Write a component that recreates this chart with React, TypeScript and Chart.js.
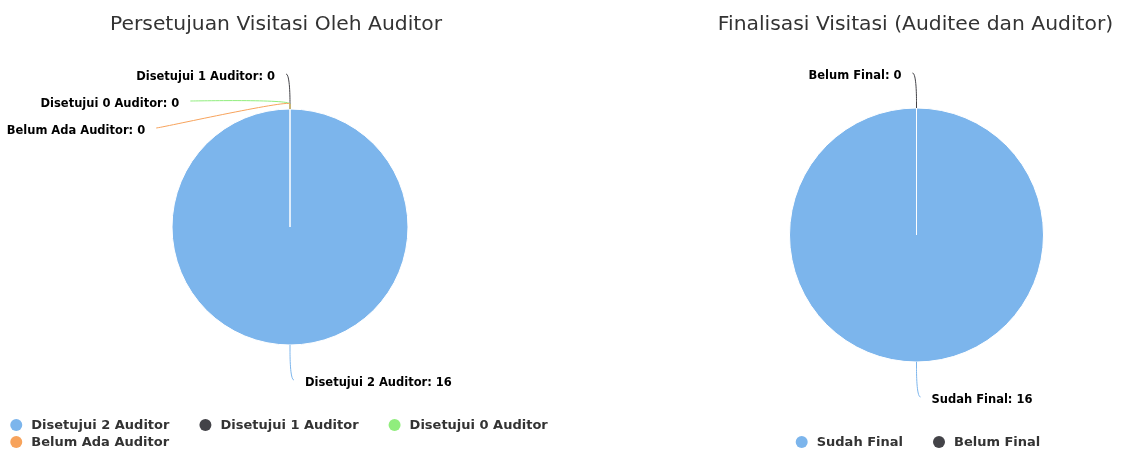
import React, { useEffect, useRef } from 'react';
import { Chart, registerables } from 'chart.js';

Chart.register(...registerables);

// ---- data ----
const approvalTitle = 'Persetujuan Visitasi Oleh Auditor';
const approvalCategories = ['Disetujui 2 Auditor', 'Disetujui 1 Auditor', 'Disetujui 0 Auditor', 'Belum Ada Auditor'];
const approvalValues = [16, 0, 0, 0];

const finalTitle = 'Finalisasi Visitasi (Auditee dan Auditor)';
const finalCategories = ['Sudah Final', 'Belum Final'];
const finalValues = [16, 0];

const palette = ['#7cb5ec', '#434348', '#90ed7d', '#f7a35c'];

const FONT = '"DejaVu Sans", Verdana, sans-serif';

type Layout = {
  left: number;
  width: number;
  height: number;
  titleX: number;
  titleY: number;
  cx: number;
  cy: number;
  r: number;
  legendX: number;
  legendY: number;
};

const leftLayout: Layout = { left: 0, width: 562, height: 450, titleX: 276, titleY: 30, cx: 290, cy: 227, r: 118, legendX: 279, legendY: 442 };
const rightLayout: Layout = { left: 561, width: 562, height: 450, titleX: 354.5, titleY: 30, cx: 355.5, cy: 235, r: 127, legendX: 357, legendY: 442 };

const LABEL_DIST = 35;
const LABEL_STEP = 27;
const CURVE_K = 30;
const BREAK = 5;

const pieDecor = {
  id: 'pieDecor',
  afterDraw(chart: any, _args: any, opts: any) {
    const ctx: CanvasRenderingContext2D = chart.ctx;
    const meta = chart.getDatasetMeta(0);
    const ds = chart.data.datasets[0];
    const labels: string[] = chart.data.labels;
    const colors: string[] = ds.backgroundColor;
    const values: number[] = ds.data;

    ctx.save();
    // title
    ctx.font = `20.3px ${FONT}`;
    ctx.fillStyle = '#333333';
    ctx.textAlign = 'center';
    ctx.textBaseline = 'alphabetic';
    ctx.fillText(opts.title, opts.titleX, opts.titleY);

    // data labels
    const EPS = 1e-9;
    const items = meta.data.map((arc: any, i: number) => {
      const p = arc.getProps(['x', 'y', 'startAngle', 'endAngle', 'outerRadius'], true);
      let a = (p.startAngle + p.endAngle) / 2;
      if (a > 1.5 * Math.PI + EPS) a -= 2 * Math.PI;
      else if (a < -Math.PI / 2 - EPS) a += 2 * Math.PI;
      const isLeft = a < -Math.PI / 2 - EPS || a > Math.PI / 2 + EPS;
      const r = p.outerRadius;
      return {
        i, a, isLeft, cx: p.x, cy: p.y, r,
        ly: p.y + (r + LABEL_DIST) * Math.sin(a),
      };
    });
    for (const half of [true, false]) {
      const group = items.filter((it: any) => it.isLeft === half).sort((u: any, v: any) => u.ly - v.ly || u.i - v.i);
      let prev = -Infinity;
      for (const it of group) {
        if (it.ly < prev + LABEL_STEP) it.ly = prev + LABEL_STEP;
        prev = it.ly;
      }
    }
    ctx.font = `bold 11.5px ${FONT}`;
    ctx.textBaseline = 'middle';
    for (const it of items) {
      const sign = it.isLeft ? -1 : 1;
      const R = it.r + LABEL_DIST + CURVE_K;
      const dy = Math.abs(it.ly - it.cy) + CURVE_K;
      const ax = it.cx + sign * Math.sqrt(Math.max(0, R * R - dy * dy));
      const ex = it.cx + it.r * Math.cos(it.a);
      const ey = it.cy + it.r * Math.sin(it.a);
      const bx = it.cx + (it.r + BREAK) * Math.cos(it.a);
      const by = it.cy + (it.r + BREAK) * Math.sin(it.a);
      ctx.strokeStyle = colors[it.i];
      ctx.lineWidth = 1;
      ctx.beginPath();
      ctx.moveTo(ax + sign * 4, it.ly);
      ctx.bezierCurveTo(ax, it.ly, 2 * bx - ex, 2 * by - ey, bx, by);
      ctx.lineTo(ex, ey);
      ctx.stroke();
      ctx.fillStyle = '#000000';
      ctx.textAlign = it.isLeft ? 'right' : 'left';
      ctx.fillText(`${labels[it.i]}: ${values[it.i]}`, ax + sign * 15, it.ly + 3);
    }

    // legend
    ctx.font = `bold 13px ${FONT}`;
    const maxW = chart.width - 16;
    const rows: { x: number; i: number; w: number }[][] = [[]];
    let x = 0;
    labels.forEach((lab, i) => {
      const w = 21 + ctx.measureText(lab).width;
      if (x > 0 && x + w > maxW) {
        rows.push([]);
        x = 0;
      }
      rows[rows.length - 1].push({ x, i, w });
      x += w + 30;
    });
    const legendW = Math.max(...rows.map((row) => {
      const last = row[row.length - 1];
      return last.x + last.w;
    }));
    const startX = opts.legendX - legendW / 2;
    ctx.textAlign = 'left';
    rows.forEach((row, ri) => {
      const y = opts.legendY - (rows.length - 1 - ri) * 17;
      for (const item of row) {
        const ix = startX + item.x;
        ctx.fillStyle = colors[item.i];
        ctx.beginPath();
        ctx.arc(ix + 6, y, 6, 0, Math.PI * 2);
        ctx.fill();
        ctx.fillStyle = '#333333';
        ctx.fillText(labels[item.i], ix + 21, y + 0.5);
      }
    });
    ctx.restore();
  },
};

function PieChart({ title, categories, values, layout }: { title: string; categories: string[]; values: number[]; layout: Layout }) {
  const ref = useRef<HTMLCanvasElement | null>(null);
  useEffect(() => {
    const canvas = ref.current;
    if (!canvas) return;
    const { width: W, height: H, cx, cy, r } = layout;
    const chart = new Chart(canvas, {
      type: 'pie',
      data: {
        labels: categories,
        datasets: [
          {
            data: values,
            backgroundColor: palette.slice(0, categories.length),
            borderColor: '#ffffff',
            borderWidth: 1,
            hoverOffset: 0,
            radius: r,
          } as any,
        ],
      },
      options: {
        responsive: false,
        animation: false,
        devicePixelRatio: 1,
        events: [],
        layout: {
          padding: { left: cx - r - 1, right: W - cx - r - 1, top: cy - r - 1, bottom: H - cy - r - 1 },
        },
        plugins: {
          legend: { display: false },
          title: { display: false },
          tooltip: { enabled: false },
          pieDecor: {
            title,
            titleX: layout.titleX,
            titleY: layout.titleY,
            legendX: layout.legendX,
            legendY: layout.legendY,
          },
        } as any,
      },
      plugins: [pieDecor],
    });
    return () => chart.destroy();
  }, [title, categories, values, layout]);
  return (
    <canvas
      ref={ref}
      width={layout.width}
      height={layout.height}
      style={{ position: 'absolute', left: layout.left, top: 0, width: layout.width, height: layout.height }}
    />
  );
}

export default function App() {
  return (
    <div style={{ position: 'absolute', left: 0, top: 0, width: 1123, height: 450, overflow: 'hidden', background: '#ffffff' }}>
      <PieChart title={approvalTitle} categories={approvalCategories} values={approvalValues} layout={leftLayout} />
      <PieChart title={finalTitle} categories={finalCategories} values={finalValues} layout={rightLayout} />
    </div>
  );
}
